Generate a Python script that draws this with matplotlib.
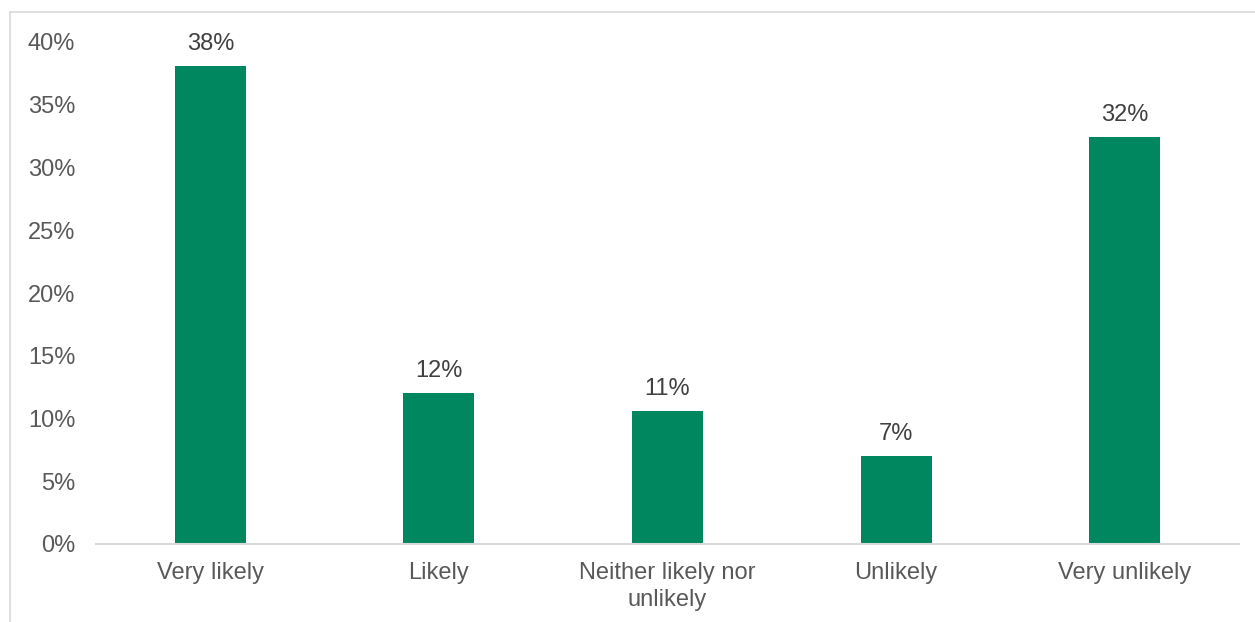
import matplotlib
matplotlib.use("Agg")
import matplotlib.pyplot as plt
from matplotlib.lines import Line2D

plt.rcParams['font.family'] = ['Liberation Sans', 'DejaVu Sans']

categories = ["Very likely", "Likely", "Neither likely nor\nunlikely", "Unlikely", "Very unlikely"]
shares = [38.1, 12.0, 10.6, 7.0, 32.4]
y_ticks = [0, 5, 10, 15, 20, 25, 30, 35, 40]

bar_color = "#00875F"
tick_color = "#595959"
label_color = "#404040"
line_color = "#D9D9D9"

W, H = 1255, 622
fig = plt.figure(figsize=(W / 100, H / 100), dpi=100)
ax = fig.add_axes([96 / W, 1 - 544 / H, (1239 - 96) / W, (544 - 42) / H])

x = list(range(len(categories)))
bars = ax.bar(x, shares, width=0.31, color=bar_color)

for xi, v in zip(x, shares):
    ax.annotate(f"{round(v):.0f}%", (xi, v), xytext=(0, 8), textcoords="offset points",
                ha="center", va="bottom", fontsize=17, color=label_color)

ax.set_xlim(-0.5, len(categories) - 0.5)
ax.set_ylim(0, 40)
ax.set_yticks(y_ticks)
ax.set_yticklabels([f"{t}%" for t in y_ticks])
ax.set_xticks(x)
ax.set_xticklabels(categories, linespacing=1.3)

ax.tick_params(axis="y", length=0, pad=15, labelsize=17, labelcolor=tick_color)
ax.tick_params(axis="x", length=0, pad=13, labelsize=17, labelcolor=tick_color)

for side in ("top", "right", "left"):
    ax.spines[side].set_visible(False)
ax.spines["bottom"].set_color(line_color)
ax.spines["bottom"].set_linewidth(1.5)

# outer frame of the chart area (top and left edges)
fig.add_artist(Line2D([10 / W, 1.0], [1 - 12 / H, 1 - 12 / H], transform=fig.transFigure,
                      color=line_color, linewidth=1.2))
fig.add_artist(Line2D([10 / W, 10 / W], [0.0, 1 - 12 / H], transform=fig.transFigure,
                      color=line_color, linewidth=1.2))

fig.savefig("out.png", dpi=100)
